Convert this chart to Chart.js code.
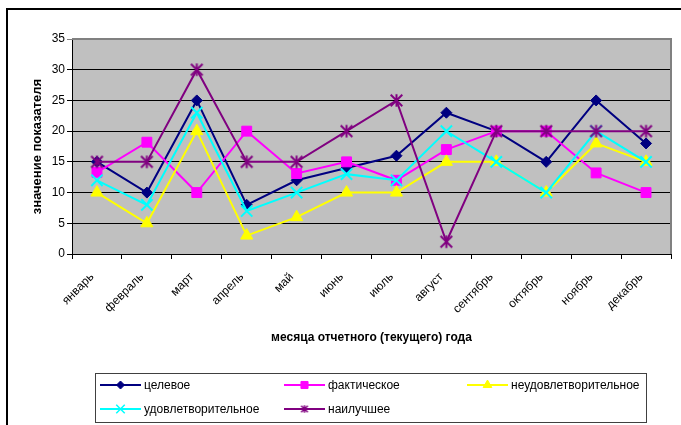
<!DOCTYPE html>
<html>
<head>
<meta charset="utf-8">
<script src="https://cdn.jsdelivr.net/npm/chart.js@4.4.1/dist/chart.umd.min.js"></script>
<style>
  html, body { margin: 0; padding: 0; background: #fff; }
  #wrap { width: 681px; height: 425px; }
</style>
</head>
<body>
<div id="wrap"><canvas id="chart" width="681" height="425"></canvas></div>
<script>
// Months of the reporting year
const months = ['январь', 'февраль', 'март', 'апрель', 'май', 'июнь',
                'июль', 'август', 'сентябрь', 'октябрь', 'ноябрь', 'декабрь'];

// Indicator values per month
const targetValues = [15, 10, 25, 8, 12, 14, 16, 23, 20, 15, 25, 18];          // целевое
const actualValues = [13.3, 18.2, 10, 20, 13.1, 15, 12, 17, 20, 20, 13.2, 10]; // фактическое
const poorValues   = [10, 5, 20, 3, 6, 10, 10, 15, 15, 10, 18, 15];            // неудовлетворительное
const goodValues   = [12, 8, 23, 7, 10, 13, 12, 20, 15, 10, 20, 15];           // удовлетворительное
const bestValues   = [15, 15, 30, 15, 15, 20, 25, 2, 20, 20, 20, 20];          // наилучшее

const yTicks = [0, 5, 10, 15, 20, 25, 30, 35];

const seriesNames = ['целевое', 'фактическое', 'неудовлетворительное', 'удовлетворительное', 'наилучшее'];

const FONT = "'Liberation Sans', Arial, sans-serif";

// Six-spoke asterisk marker
function makeAsterisk(size, color, lw) {
  const c = document.createElement('canvas');
  c.width = size; c.height = size;
  const g = c.getContext('2d');
  g.strokeStyle = color;
  g.lineWidth = lw;
  const m = size / 2, p = 1.2;
  g.beginPath();
  g.moveTo(m, p); g.lineTo(m, size - p);
  g.moveTo(p + 0.5, p + 0.5); g.lineTo(size - p - 0.5, size - p - 0.5);
  g.moveTo(size - p - 0.5, p + 0.5); g.lineTo(p + 0.5, size - p - 0.5);
  g.stroke();
  return c;
}
const asteriskBig = makeAsterisk(15, '#800080', 2);
const asteriskSmall = makeAsterisk(10, '#800080', 1.5);

const colors = ['#000080', '#FF00FF', '#FFFF00', '#00FFFF', '#800080'];
const styles = [
  { pointStyle: 'rectRot', radius: 5.5, borderWidth: 1 },
  { pointStyle: 'rect', radius: 7, borderWidth: 1 },
  { pointStyle: 'triangle', radius: 7, borderWidth: 1 },
  { pointStyle: 'crossRot', radius: 8, borderWidth: 2 },
  { pointStyle: asteriskBig, radius: 7, borderWidth: 1 }
];
const legendStyles = [
  { pointStyle: 'rectRot', radius: 4, borderWidth: 1 },
  { pointStyle: 'rect', radius: 5, borderWidth: 1 },
  { pointStyle: 'triangle', radius: 5, borderWidth: 1 },
  { pointStyle: 'crossRot', radius: 6, borderWidth: 1.5 },
  { pointStyle: asteriskSmall, radius: 5, borderWidth: 1 }
];
const seriesData = [targetValues, actualValues, poorValues, goodValues, bestValues];

const datasets = seriesData.map((vals, i) => ({
  label: seriesNames[i],
  data: vals,
  borderColor: colors[i],
  backgroundColor: colors[i],
  borderWidth: 2,
  pointStyle: styles[i].pointStyle,
  pointRadius: styles[i].radius,
  pointHoverRadius: styles[i].radius,
  pointBorderWidth: styles[i].borderWidth,
  pointBackgroundColor: colors[i],
  pointBorderColor: colors[i],
  tension: 0,
  fill: false,
  order: seriesData.length - i
}));

// Plot background, outer frame and boxed legend
const decor = {
  id: 'decor',
  beforeDraw(chart) {
    const { ctx, chartArea: a } = chart;
    ctx.save();
    ctx.fillStyle = '#fff';
    ctx.fillRect(0, 0, chart.width, chart.height);
    ctx.fillStyle = '#C0C0C0';
    ctx.fillRect(a.left, a.top, a.right - a.left, a.bottom - a.top);
    ctx.restore();
  },
  afterDatasetsDraw(chart) {
    const { ctx, chartArea: a } = chart;
    ctx.save();
    ctx.strokeStyle = '#808080';
    ctx.lineWidth = 2;
    ctx.beginPath();
    ctx.moveTo(a.left, a.top);
    ctx.lineTo(a.right, a.top);
    ctx.lineTo(a.right, a.bottom);
    ctx.stroke();
    ctx.restore();
  },
  afterDraw(chart) {
    const { ctx } = chart;
    ctx.save();
    // outer frame
    ctx.strokeStyle = '#000';
    ctx.lineWidth = 2;
    ctx.strokeRect(7, 9, 700, 440);

    // legend box
    const box = { x: 95.5, y: 373.5, w: 551, h: 49 };
    ctx.fillStyle = '#fff';
    ctx.fillRect(box.x, box.y, box.w, box.h);
    ctx.strokeStyle = '#404040';
    ctx.lineWidth = 1;
    ctx.strokeRect(box.x, box.y, box.w, box.h);

    const cols = [100, 284, 467];
    const rows = [385, 409];
    ctx.font = '12px ' + FONT;
    ctx.textBaseline = 'middle';
    for (let i = 0; i < seriesNames.length; i++) {
      const x0 = cols[i % 3], y0 = rows[Math.floor(i / 3)];
      ctx.strokeStyle = colors[i];
      ctx.fillStyle = colors[i];
      ctx.lineWidth = 2;
      ctx.beginPath();
      ctx.moveTo(x0, y0);
      ctx.lineTo(x0 + 41, y0);
      ctx.stroke();
      const st = legendStyles[i];
      ctx.lineWidth = st.borderWidth;
      Chart.helpers.drawPoint(ctx, {
        pointStyle: st.pointStyle, radius: st.radius, rotation: 0, borderWidth: st.borderWidth
      }, x0 + 20.5, y0);
      ctx.fillStyle = '#000';
      ctx.fillText(seriesNames[i], x0 + 44, y0 + 0.5);
    }
    ctx.restore();
  }
};

new Chart(document.getElementById('chart'), {
  type: 'line',
  data: { labels: months, datasets },
  plugins: [decor],
  options: {
    responsive: false,
    animation: false,
    devicePixelRatio: 1,
    layout: { padding: { left: 0, top: 39, right: 9, bottom: 0 } },
    plugins: { legend: { display: false }, tooltip: { enabled: false } },
    scales: {
      x: {
        type: 'category',
        offset: true,
        grid: { offset: true, drawOnChartArea: false, drawTicks: true, tickLength: 5, color: '#000', lineWidth: 1 },
        border: { color: '#000', width: 1 },
        ticks: {
          autoSkip: false, minRotation: 45, maxRotation: 45, padding: 11, labelOffset: -5,
          color: '#000', font: { family: FONT, size: 12 }
        },
        title: {
          display: true, text: 'месяца отчетного (текущего) года', color: '#000',
          font: { family: FONT, size: 12, weight: 'bold' }, padding: { top: 0, bottom: 80 }
        },
        afterFit(scale) { scale.height = 171; }
      },
      y: {
        min: 0, max: 35,
        afterBuildTicks(scale) { scale.ticks = yTicks.map(v => ({ value: v })); },
        grid: {
          color: ctx => (ctx.tick && ctx.tick.value === 35 ? '#808080' : '#000'),
          lineWidth: 1, drawTicks: true, tickLength: 5
        },
        border: { color: '#000', width: 1 },
        ticks: { padding: 2, color: '#000', font: { family: FONT, size: 12 } },
        title: {
          display: true, text: 'значение показателя', color: '#000',
          font: { family: FONT, size: 13, weight: 'bold' }, padding: { top: 30, bottom: 0 }
        },
        afterFit(scale) { scale.width = 72; }
      }
    }
  }
});
</script>
</body>
</html>
